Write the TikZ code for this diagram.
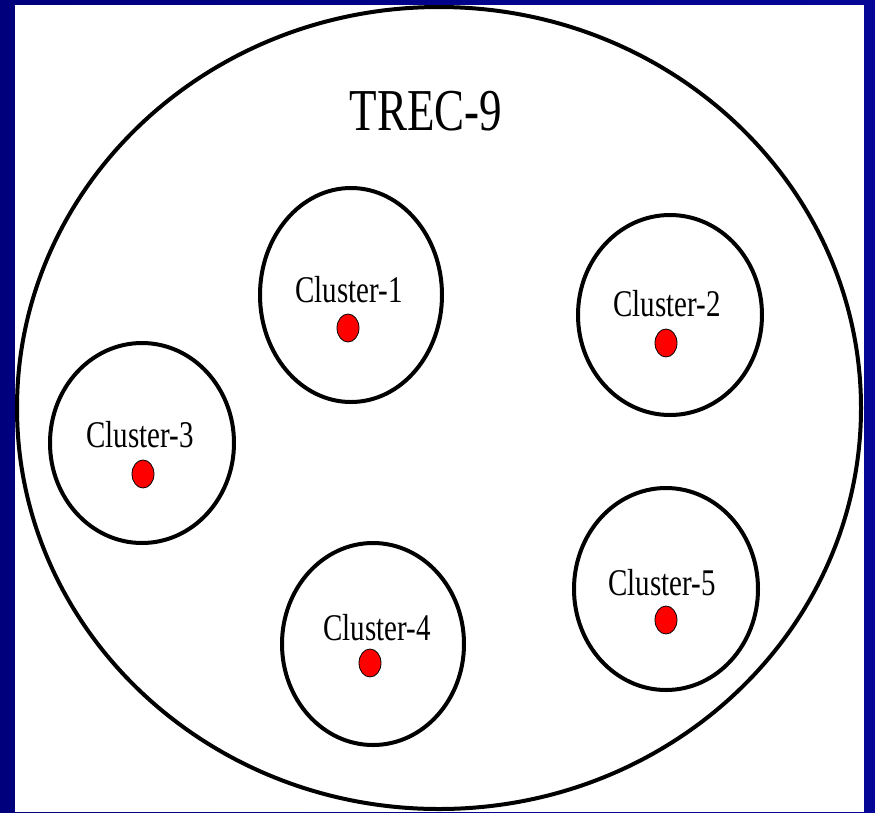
\documentclass[tikz,border=0pt]{standalone}
\usepackage{fontspec}
\setmainfont{Liberation Serif}
\definecolor{navyL}{RGB}{0,0,125}
\definecolor{navyR}{RGB}{6,6,150}
\begin{document}
\begin{tikzpicture}[x=1pt,y=-1pt,
  ring/.style={draw=black,line width=4pt},
  centroid/.style={draw=black,fill=red,line width=0.8pt},
  clabel/.style={inner sep=0pt,anchor=base,font=\fontsize{29}{30}\selectfont},
  tlabel/.style={inner sep=0pt,anchor=base,font=\fontsize{45}{48}\selectfont}]
\useasboundingbox (0,0) rectangle (875,812);
% slide background and white panel
\shade[left color=navyL,right color=navyR] (0,0) rectangle (875,812);
\fill[white] (15,5) rectangle (864,812);
% whole collection
\draw[ring] (439,408) ellipse [x radius=422,y radius=401];
\node[tlabel] (trec) at (426,130) {\scalebox{1}[1.32]{TREC-9}};
% clusters: boundary, label, centroid
\draw[ring] (351,295) ellipse [x radius=91,y radius=107];
\node[clabel] (c1) at (349,302) {\scalebox{1}[1.3]{Cluster-1}};
\draw[centroid] (348,328) ellipse [x radius=11,y radius=14];

\draw[ring] (670,315) ellipse [x radius=92,y radius=100];
\node[clabel] (c2) at (667,316) {\scalebox{1}[1.3]{Cluster-2}};
\draw[centroid] (666,343) ellipse [x radius=11,y radius=14];

\draw[ring] (142,443) ellipse [x radius=92,y radius=100];
\node[clabel] (c3) at (140,447) {\scalebox{1}[1.3]{Cluster-3}};
\draw[centroid] (143,474) ellipse [x radius=11,y radius=14];

\draw[ring] (373,644) ellipse [x radius=91,y radius=101];
\node[clabel] (c4) at (377,640) {\scalebox{1}[1.3]{Cluster-4}};
\draw[centroid] (370,663) ellipse [x radius=11,y radius=14];

\draw[ring] (666,589) ellipse [x radius=92,y radius=101];
\node[clabel] (c5) at (662,595) {\scalebox{1}[1.3]{Cluster-5}};
\draw[centroid] (666,620) ellipse [x radius=11,y radius=14];
\end{tikzpicture}
\end{document}
